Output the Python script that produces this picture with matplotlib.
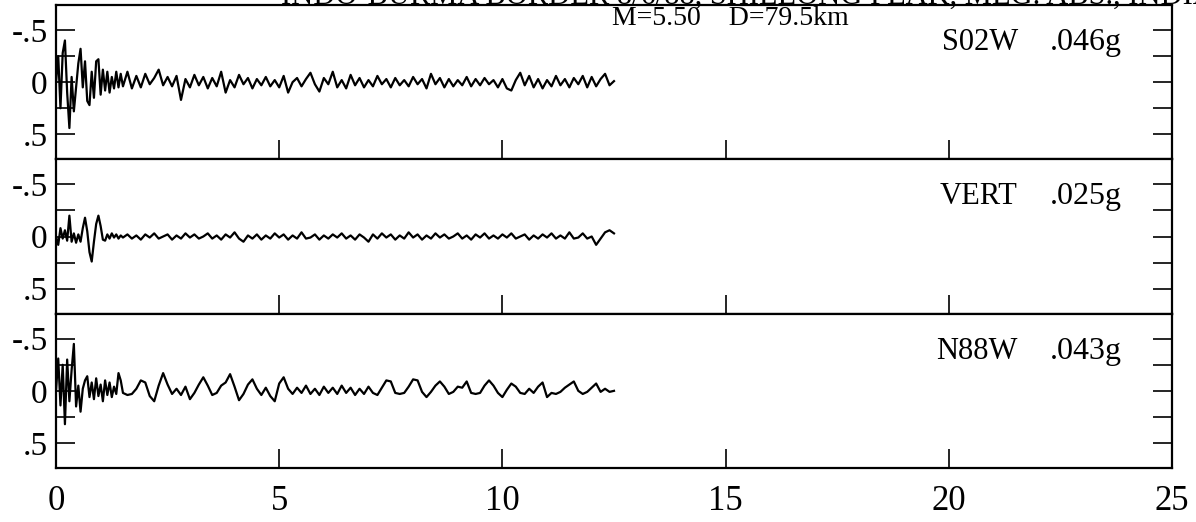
import numpy as np
import matplotlib
matplotlib.use('Agg')
import matplotlib.pyplot as plt

plt.rcParams['font.family'] = ['Liberation Serif', 'DejaVu Serif']

# sample times: dense during the first 1.5 s burst, then every 0.1 s
t_burst = np.arange(30) * 0.05
t_tail = 1.5 + np.arange(111) * 0.1
t = np.concatenate([t_burst, t_tail])

# acceleration (g, plotted with negative up)
s02w_burst = [0.0, -0.25, 0.25, -0.28, -0.40, 0.10, 0.44, -0.05, 0.28, 0.05,
              -0.18, -0.32, 0.05, -0.20, 0.18, 0.22, -0.10, 0.15, -0.20, -0.22,
              0.12, -0.12, 0.08, -0.10, 0.10, -0.05, 0.06, -0.10, 0.05, -0.08]
s02w_tail = [0.04, -0.10, 0.06, -0.06, 0.05, -0.08, 0.02, -0.04, -0.12, 0.03,
             -0.05, 0.04, -0.06, 0.17, -0.03, 0.05, -0.07, 0.03, -0.05, 0.06,
             -0.04, 0.04, -0.10, 0.10, -0.02, 0.05, -0.07, 0.02, -0.04, 0.06,
             -0.03, 0.03, -0.05, 0.04, -0.02, 0.05, -0.06, 0.10, 0.00, -0.04,
             0.04, -0.03, -0.09, 0.02, 0.09, -0.04, 0.02, -0.10, 0.05, -0.02,
             0.06, -0.07, 0.03, -0.04, 0.05, -0.02, 0.04, -0.06, 0.02, -0.03,
             0.05, -0.04, 0.03, -0.02, 0.04, -0.05, 0.02, -0.03, 0.06, -0.08,
             0.02, -0.04, 0.05, -0.03, 0.04, -0.02, 0.03, -0.05, 0.04, -0.03,
             0.03, -0.04, 0.02, -0.02, 0.05, -0.03, 0.06, 0.08, -0.02, -0.09,
             0.03, -0.06, 0.05, -0.03, 0.06, -0.02, 0.04, -0.06, 0.03, -0.03,
             0.05, -0.04, 0.02, -0.06, 0.05, -0.05, 0.04, -0.03, -0.08, 0.03, -0.01]

vert_burst = [0.0, 0.08, -0.08, 0.02, -0.06, 0.04, -0.20, 0.05, -0.03, 0.06,
              -0.02, 0.05, -0.08, -0.18, -0.05, 0.15, 0.24, 0.05, -0.12, -0.20,
              -0.10, 0.03, 0.04, -0.02, 0.02, -0.03, 0.01, -0.02, 0.02, -0.01]
vert_tail = [0.01, -0.02, 0.02, -0.01, 0.03, -0.02, 0.01, -0.03, 0.02, 0.00,
             -0.02, 0.03, -0.01, 0.02, -0.03, 0.01, -0.02, 0.02, 0.00, -0.03,
             0.02, -0.01, 0.03, -0.02, 0.01, -0.04, 0.02, 0.05, -0.01, 0.02,
             -0.02, 0.03, -0.01, 0.02, -0.03, 0.01, -0.02, 0.03, -0.01, 0.02,
             -0.04, 0.02, 0.01, -0.02, 0.03, -0.01, 0.02, -0.02, 0.01, -0.03,
             0.02, -0.01, 0.03, -0.02, 0.01, 0.05, -0.02, 0.02, -0.03, 0.01,
             -0.02, 0.03, -0.01, 0.02, -0.04, 0.01, -0.02, 0.03, -0.01, 0.02,
             -0.03, 0.01, -0.02, 0.02, 0.00, -0.03, 0.02, -0.01, 0.03, -0.02,
             0.01, -0.03, 0.02, -0.01, 0.02, -0.02, 0.01, -0.03, 0.02, 0.00,
             -0.02, 0.03, -0.01, 0.02, -0.02, 0.01, -0.03, 0.02, -0.01, 0.02,
             -0.04, 0.02, 0.01, -0.03, 0.02, 0.00, 0.08, 0.02, -0.04, -0.06, -0.03]

n88w_burst = [0.0, -0.31, 0.14, -0.25, 0.32, -0.30, 0.10, -0.20, -0.45, 0.15,
              -0.05, 0.20, -0.02, -0.10, -0.14, 0.06, -0.08, 0.08, -0.12, 0.05,
              -0.06, 0.10, -0.10, 0.04, -0.08, 0.06, -0.04, 0.03, -0.17, -0.10]
n88w_tail = [0.02, 0.04, 0.03, -0.02, -0.10, -0.08, 0.05, 0.10, -0.05, -0.17,
             -0.06, 0.03, -0.02, 0.04, -0.04, 0.08, 0.02, -0.06, -0.13, -0.05,
             0.04, 0.02, -0.05, -0.08, -0.16, -0.04, 0.09, 0.03, -0.06, -0.11,
             -0.02, 0.04, -0.03, 0.05, 0.10, -0.07, -0.13, -0.02, 0.03, -0.03,
             0.02, -0.05, 0.03, -0.02, 0.04, -0.04, 0.02, -0.03, 0.03, -0.05,
             0.02, -0.03, 0.04, -0.02, 0.03, -0.04, 0.02, 0.04, -0.03, -0.10,
             -0.09, 0.02, 0.03, 0.02, -0.04, -0.11, -0.10, 0.01, 0.06, 0.01,
             -0.05, -0.09, -0.04, 0.03, 0.01, -0.04, -0.03, -0.09, 0.02, 0.03,
             0.02, -0.05, -0.10, -0.05, 0.02, 0.06, -0.01, -0.07, -0.04, 0.02,
             0.03, -0.02, 0.02, -0.04, -0.08, 0.06, 0.02, 0.03, 0.01, -0.03,
             -0.06, -0.09, 0.00, 0.03, 0.01, -0.03, -0.07, 0.01, -0.02, 0.01, 0.00]

components = ['S02W', 'VERT', 'N88W']
peaks = ['.046g', '.025g', '.043g']
traces = [s02w_burst + s02w_tail, vert_burst + vert_tail, n88w_burst + n88w_tail]

title = 'INDO-BURMA BORDER 8/6/88, SHILLONG PEAK, MEG. ABS., INDIA'
subtitle = 'M=5.50    D=79.5km'

fig, axes = plt.subplots(3, 1, sharex=True, figsize=(11.96, 5.22), dpi=100)
fig.subplots_adjust(left=56/1196, right=1172/1196, top=1-5/522, bottom=1-468/522, hspace=0)

for ax, comp, pk, acc in zip(axes, components, peaks, traces):
    ax.plot(t, acc, color='black', lw=1.6)
    ax.set_xlim(0, 25)
    ax.set_ylim(0.74, -0.74)
    ax.set_yticks([-0.5, 0, 0.5])
    ax.set_yticklabels(['-.5', '0', '.5'])
    ax.set_yticks([-0.25, 0.25], minor=True)
    ax.set_xticks([0, 5, 10, 15, 20, 25])
    ax.tick_params(axis='y', which='both', direction='in', left=True, right=True,
                   length=13.7, width=1.2, labelsize=24, pad=6)
    ax.tick_params(axis='x', direction='in', length=14, width=1.2, top=False,
                   labelsize=25, pad=12)
    for sp in ax.spines.values():
        sp.set_linewidth(1.6)
    ax.text(21.55, -0.31, comp, ha='right', va='baseline', fontsize=22)
    ax.text(22.27, -0.31, pk, ha='left', va='baseline', fontsize=23)

# header line is cut by the top edge in the original scan
fig.text(1215/1196, 1-4/522, title, ha='right', va='baseline', fontsize=22)
fig.text(612/1196, 1-25/522, subtitle, ha='left', va='baseline', fontsize=20)

fig.savefig('out.png', dpi=100)
